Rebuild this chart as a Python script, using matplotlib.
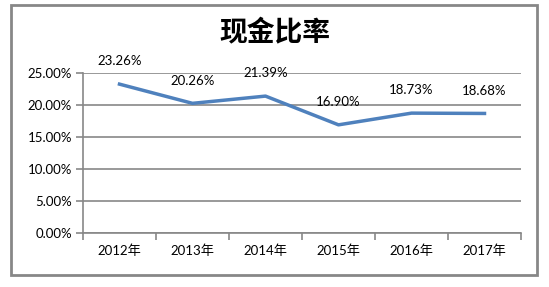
import matplotlib.pyplot as plt
from matplotlib.patches import Rectangle
from matplotlib.ticker import FuncFormatter

plt.rcParams['font.family'] = ['Lato', 'Noto Sans CJK SC', 'DejaVu Sans']

years = ['2012年', '2013年', '2014年', '2015年', '2016年', '2017年']
cash_ratio = [23.26, 20.26, 21.39, 16.90, 18.73, 18.68]

fig = plt.figure(figsize=(5.49, 2.87), dpi=100)
fig.patch.set_facecolor('white')

# marco exterior del grafico
fig.patches.append(Rectangle((11 / 549, 12 / 287), 526 / 549, 270 / 287,
                             transform=fig.transFigure, fill=False,
                             edgecolor='#878787', linewidth=2))

ax = fig.add_axes([83 / 549, 54 / 287, 438 / 549, 160 / 287])
x = range(len(years))
ax.plot(x, cash_ratio, color='#4F81BD', linewidth=2.5)

for i, v in enumerate(cash_ratio):
    ax.annotate('{:.2f}%'.format(v), (i, v), xytext=(0, 12), textcoords='offset points',
                ha='center', va='bottom', fontsize=9.5, color='black')

ax.set_xlim(-0.5, len(years) - 0.5)
ax.set_ylim(0, 25)
ax.set_yticks([0, 5, 10, 15, 20, 25])
ax.yaxis.set_major_formatter(FuncFormatter(lambda v, p: '{:.2f}%'.format(v)))
ax.set_xticks(x)
ax.set_xticklabels(years)
ax.set_xticks([i - 0.5 for i in range(len(years) + 1)], minor=True)

ax.grid(axis='y', color='#878787', linewidth=1.2)
ax.set_axisbelow(True)
for s in ['top', 'right']:
    ax.spines[s].set_visible(False)
for s in ['left', 'bottom']:
    ax.spines[s].set_color('#878787')
    ax.spines[s].set_linewidth(1.2)

ax.tick_params(axis='y', length=5, color='#878787', width=1.2, labelsize=9.5, pad=3)
ax.tick_params(axis='x', which='major', length=0, labelsize=9.5, pad=8)
ax.tick_params(axis='x', which='minor', length=5, color='#878787', width=1.2)

fig.text(0.5, 0.885, '现金比率', ha='center', va='center', fontsize=20,
         fontweight='bold', family=['Noto Sans CJK SC'])

fig.savefig('out.png', dpi=100)
